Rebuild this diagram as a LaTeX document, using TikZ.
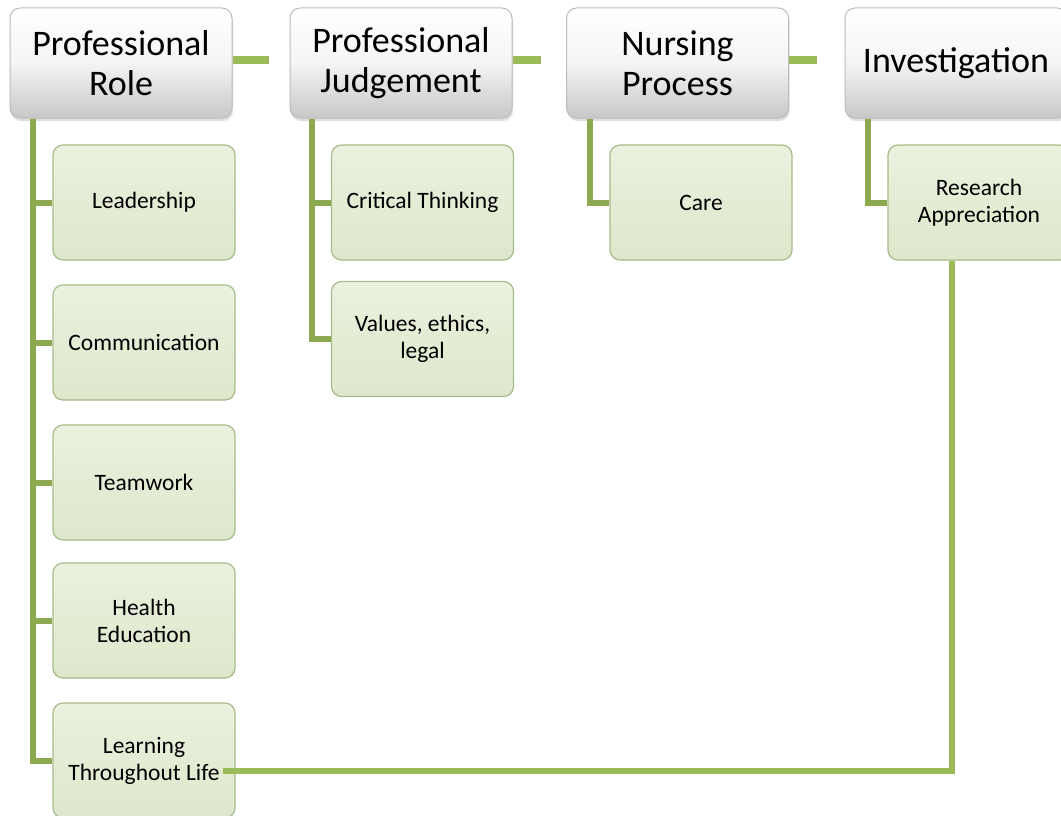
\documentclass[tikz,border=0pt]{standalone}
\usepackage{fontspec}
\setmainfont{Carlito}
\usetikzlibrary{shadows}
\definecolor{lgreen}{HTML}{9BBB59}
\definecolor{tgreen}{HTML}{8CA94F}
\definecolor{cfillA}{HTML}{EBF1DE}
\definecolor{cfillB}{HTML}{DEE7CB}
\definecolor{cborder}{HTML}{A8BB8A}
\definecolor{tborder}{HTML}{BDBDBD}
\definecolor{shadowgray}{HTML}{D0D0D0}
\tikzset{
  topbox/.style={draw=tborder, line width=1pt, rounded corners=10pt,
    top color=white, bottom color=black!22, middle color=white!96!black,
    minimum width=222pt, minimum height=110pt, inner sep=0pt, align=center,
    font=\fontsize{36}{40}\selectfont,
    drop shadow={shadow xshift=1pt, shadow yshift=-3pt, opacity=0.25}},
  childbox/.style={draw=cborder, line width=1.2pt, rounded corners=10pt,
    top color=cfillA, bottom color=cfillB,
    minimum width=182pt, minimum height=115pt, inner sep=0pt, align=center,
    font=\fontsize{23.5}{27}\selectfont},
  trunk/.style={draw=tgreen, line width=6pt},
  topconn/.style={draw=lgreen, line width=8pt},
  longconn/.style={draw=lgreen, line width=6pt},
  shadowline/.style={draw=shadowgray, line width=6pt, opacity=0.8},
}
\begin{document}
\begin{tikzpicture}[x=1pt,y=-1pt]
\useasboundingbox (0,0) rectangle (1061,816);
\fill[white] (0,0) rectangle (1061,816);

% top level
\node[topbox] (pr) at (121,63) {Professional\\Role};
\node[topbox] (pj) at (401,63) {Professional\\Judgement};
\node[topbox] (np) at (677.5,63) {Nursing\\Process};
\node[topbox] (inv) at (956,63) {Investigation};

% connectors between top boxes
\coordinate (c1) at ([xshift=36pt,yshift=3pt]pr.east);
\coordinate (c2) at ([xshift=28pt,yshift=3pt]pj.east);
\coordinate (c3) at ([xshift=28pt,yshift=3pt]np.east);
\begin{scope}[xshift=-2pt,yshift=-5pt]
\draw[shadowline] ([yshift=3pt]pr.east) -- (c1);
\draw[shadowline] ([yshift=3pt]pj.east) -- (c2);
\draw[shadowline] ([yshift=3pt]np.east) -- (c3);
\end{scope}
\draw[topconn] ([yshift=3pt]pr.east) -- (c1);
\draw[topconn] ([yshift=3pt]pj.east) -- (c2);
\draw[topconn] ([yshift=3pt]np.east) -- (c3);

% children of Professional Role
\node[childbox] (lead) at (144,202.5) {Leadership};
\node[childbox] (comm) at (144,342.5) {Communication};
\node[childbox] (team) at (144,482.5) {Teamwork};
\node[childbox] (health) at (144,620.5) {Health\\Education};
\node[childbox] (ltl) at (144,760.5) {Learning\\Throughout Life};

% children of Professional Judgement
\node[childbox] (crit) at (422.5,202.5) {Critical Thinking};
\node[childbox] (val) at (422.5,339) {Values, ethics,\\legal};

% child of Nursing Process
\node[childbox] (care) at (701,202.5) {Care};

% child of Investigation
\node[childbox] (ra) at (979,202.5) {Research\\Appreciation};

% trunks
\draw[trunk] (pr.south -| 33,0) |- (lead.west);
\draw[trunk] (pr.south -| 33,0) |- (comm.west);
\draw[trunk] (pr.south -| 33,0) |- (team.west);
\draw[trunk] (pr.south -| 33,0) |- (health.west);
\draw[trunk] (pr.south -| 33,0) |- (ltl.west);

\draw[trunk] (pj.south -| 312,0) |- (crit.west);
\draw[trunk] (pj.south -| 312,0) |- (val.west);

\draw[trunk] (np.south -| 590,0) |- (care.west);

\draw[trunk] (inv.south -| 868,0) |- (ra.west);

% long connector
\coordinate (lstart) at ([xshift=-13pt,yshift=-10pt]ltl.east);
\coordinate (lend) at ([xshift=-27pt]ra.south);
\begin{scope}[xshift=-2pt,yshift=-5pt]
\draw[shadowline] (lstart) -| (lend);
\end{scope}
\draw[longconn] (lstart) -| (lend);
\end{tikzpicture}
\end{document}
